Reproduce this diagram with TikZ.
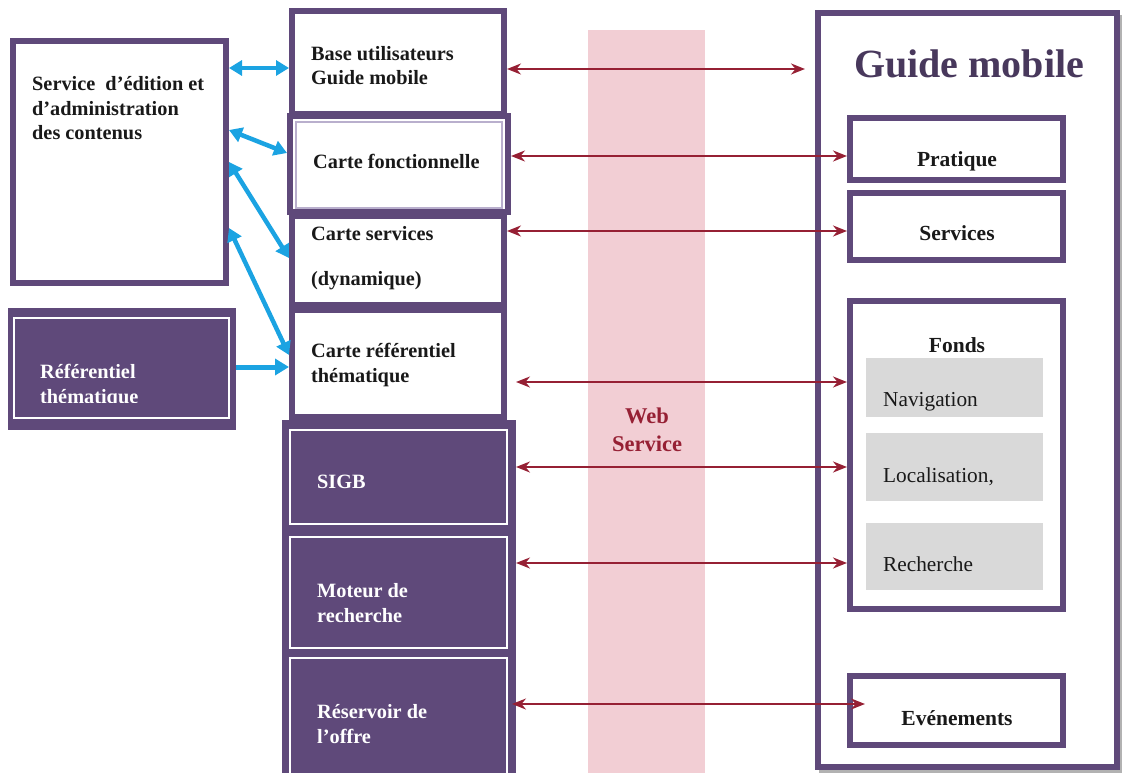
\documentclass[tikz,border=0pt]{standalone}
\usepackage{fontspec}
\setmainfont{Liberation Serif}
\usetikzlibrary{arrows.meta,calc}
\definecolor{pur}{RGB}{95,73,122}
\definecolor{ttl}{RGB}{72,56,92}
\definecolor{lav}{RGB}{185,175,205}
\definecolor{dred}{RGB}{150,32,52}
\definecolor{cyb}{RGB}{27,163,226}
\definecolor{pinkb}{RGB}{242,206,212}
\definecolor{gbox}{RGB}{217,217,217}
\definecolor{txt}{RGB}{25,25,25}
\begin{document}
\begin{tikzpicture}[x=1pt,y=-1pt,
  box/.style={draw=pur,line width=6pt,fill=white,anchor=north west,inner sep=0pt},
  pfill/.style={fill=pur,draw=none,anchor=north west,inner sep=0pt,outer sep=0pt},
  wline/.style={draw=white,line width=1.6pt,anchor=north west,inner sep=0pt,outer sep=0pt},
  gfill/.style={fill=gbox,draw=none,anchor=north west,inner sep=0pt,outer sep=0pt},
  lbl/.style={anchor=base west,inner sep=0pt,text=txt,font=\fontsize{20.3}{24.5}\selectfont\bfseries,align=left},
  wlbl/.style={lbl,text=white},
  clbl/.style={anchor=base,inner sep=0pt,text=txt,font=\fontsize{21.5}{24}\selectfont\bfseries},
  nlbl/.style={anchor=base west,inner sep=0pt,text=txt,font=\fontsize{21.3}{24}\selectfont},
  redarr/.style={draw=dred,line width=2pt,{Stealth[length=14pt,width=11pt]}-{Stealth[length=14pt,width=11pt]}},
  bluearr/.style={draw=cyb,line width=4.5pt,{Triangle[length=13pt,width=15pt]}-{Triangle[length=13pt,width=15pt]}},
  bluearr1/.style={draw=cyb,line width=5pt,-{Triangle[length=14pt,width=16pt]}},
]
\useasboundingbox (0,0) rectangle (1122,773);

% web service band
\node[fill=pinkb,draw=none,anchor=north west,inner sep=0pt,outer sep=0pt,minimum width=117pt,minimum height=743pt] (band) at (588,30) {};
\node[anchor=base,inner sep=0pt,text=dred,font=\fontsize{22.5}{28}\selectfont\bfseries,align=center] (ws) at (647,451) {Web\\Service};

% left column
\node[box,minimum width=213pt,minimum height=242pt] (svc) at (10,38) {};
\node[lbl] (svct) at (32,140) {Service\ \ d’édition et\\d’administration\\des contenus};

\node[pfill,minimum width=228pt,minimum height=122pt] (ref) at (8,308) {};
\node[wline,minimum width=215pt,minimum height=100pt] (refin) at (14,318) {};
\begin{scope}
\clip (0,300) rectangle (240,402.5);
\node[wlbl] (reft) at (40,403) {Référentiel\\thématique};
\end{scope}

% middle column
\node[box,minimum width=212pt,minimum height=103pt] (base) at (289,8) {};
\node[box,minimum width=212pt,minimum height=89pt] (serv) at (289,213) {};
\node[box,minimum width=212pt,minimum height=107pt] (cref) at (289,307) {};
\node[box,minimum width=218pt,minimum height=96pt] (fonct) at (287,113) {};
\node[draw=lav,line width=1.3pt,anchor=north west,inner sep=0pt,outer sep=0pt,minimum width=206pt,minimum height=86pt] (fin) at (296,122) {};

\node[lbl] (baset) at (311,85) {Base utilisateurs\\Guide mobile};
\node[lbl] (fonctt) at (313,168) {Carte fonctionnelle};
\node[lbl] (servt) at (311,240) {Carte services};
\node[lbl] (servt2) at (311,285) {(dynamique)};
\node[lbl] (creft) at (311,382) {Carte référentiel\\thématique};

\node[pfill,minimum width=234pt,minimum height=353pt] (block) at (282,420) {};
\node[wline,minimum width=217pt,minimum height=94pt] (sigb) at (290,430) {};
\node[wline,minimum width=217pt,minimum height=111pt] (mot) at (290,537) {};
\node[wline,minimum width=217pt,minimum height=130pt] (res) at (290,658) {};
\node[wlbl] (sigbt) at (317,488) {SIGB};
\node[wlbl] (mott) at (317,622) {Moteur de\\recherche};
\node[wlbl] (rest) at (317,743) {Réservoir de\\l’offre};

% right column
\fill[gray!60] (819,15) rectangle (1123,774);
\node[box,minimum width=299pt,minimum height=754pt] (guide) at (815,10) {};
\node[anchor=base,inner sep=0pt,text=ttl,font=\fontsize{40}{44}\selectfont\bfseries] (gt) at (969,78) {Guide mobile};

\node[box,minimum width=213pt,minimum height=62pt] (prat) at (847,115) {};
\node[box,minimum width=213pt,minimum height=67pt] (servr) at (847,190) {};
\node[box,minimum width=213pt,minimum height=308pt] (fonds) at (847,298) {};
\node[box,minimum width=213pt,minimum height=69pt] (ev) at (847,673) {};
\node[gfill,minimum width=177pt,minimum height=59pt] (nav) at (866,358) {};
\node[gfill,minimum width=177pt,minimum height=68pt] (loc) at (866,433) {};
\node[gfill,minimum width=177pt,minimum height=67pt] (rech) at (866,523) {};

\node[clbl] (pratt) at (957,167) {Pratique};
\node[clbl] (servrt) at (957,240) {Services};
\node[clbl] (fondst) at (957,352) {Fonds};
\node[clbl] (evt) at (957,725) {Evénements};
\node[nlbl] (navt) at (883,406) {Navigation};
\node[nlbl] (loct) at (883,482) {Localisation,};
\node[nlbl] (recht) at (883,571) {Recherche};

% red arrows
\coordinate (gm) at (805,69);
\draw[redarr] (base.east |- 0,69) -- (gm);
\draw[redarr] (fonct.east |- 0,156) -- (prat.west |- 0,156);
\draw[redarr] (serv.east |- 0,231) -- (servr.west |- 0,231);
\draw[redarr] (block.east |- 0,382) -- (fonds.west |- 0,382);
\draw[redarr] (block.east |- 0,467) -- (fonds.west |- 0,467);
\draw[redarr] (block.east |- 0,563) -- (fonds.west |- 0,563);
\draw[redarr,shorten <=-4pt,shorten >=-18pt] (block.east |- 0,704) -- (ev.west |- 0,704);

% blue arrows
\draw[bluearr] (svc.east |- 0,68) -- (base.west |- 0,68);
\draw[bluearr] (svc.east |- 0,130) -- (fonct.west |- 0,153);
\draw[bluearr] (svc.east |- 0,162) -- (serv.west |- 0,258);
\draw[bluearr] (svc.east |- 0,228) -- (cref.west |- 0,355);
\draw[bluearr1] (ref.east |- 0,367) -- (cref.west |- 0,367);
\end{tikzpicture}
\end{document}
